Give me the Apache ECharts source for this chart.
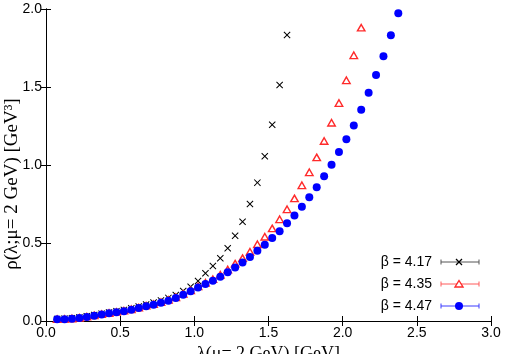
<!DOCTYPE html>
<html><head><meta charset="utf-8">
<script src="https://cdn.jsdelivr.net/npm/echarts@6/dist/echarts.min.js"></script>
<style>html,body{margin:0;padding:0;background:#fff}#c{width:506px;height:354px}</style>
</head><body><div id="c"></div>
<script>
// lambda values (GeV)
const lambdas = [0.075,0.125,0.175,0.225,0.275,0.325,0.375,0.425,0.475,0.525,0.575,0.625,0.675,0.725,0.775,0.825,0.875,0.925,0.975,1.025,1.075,1.125,1.175,1.225,1.275,1.325,1.375,1.425,1.475,1.525,1.575,1.625,1.675,1.725,1.775,1.825,1.875,1.925,1.975,2.025,2.075,2.125,2.175,2.225,2.275,2.325,2.375];
// beta = 4.17
const rho417 = [0.013,0.015,0.018,0.023,0.030,0.038,0.047,0.055,0.063,0.071,0.081,0.093,0.106,0.118,0.132,0.148,0.167,0.192,0.220,0.256,0.306,0.353,0.402,0.466,0.546,0.636,0.750,0.887,1.056,1.258,1.513,1.833];
// beta = 4.35
const rho435 = [0.012,0.013,0.016,0.021,0.028,0.036,0.044,0.051,0.058,0.066,0.075,0.086,0.098,0.108,0.121,0.135,0.152,0.174,0.196,0.222,0.245,0.268,0.296,0.330,0.368,0.403,0.444,0.492,0.540,0.594,0.652,0.716,0.786,0.870,0.953,1.049,1.154,1.271,1.397,1.543,1.703,1.880];
// beta = 4.47
const rho447 = [0.011,0.012,0.014,0.019,0.026,0.034,0.042,0.049,0.056,0.063,0.072,0.083,0.095,0.104,0.117,0.130,0.147,0.169,0.190,0.215,0.237,0.258,0.284,0.312,0.343,0.375,0.411,0.450,0.489,0.532,0.575,0.626,0.677,0.733,0.793,0.857,0.928,1.002,1.083,1.165,1.254,1.354,1.463,1.577,1.697,1.831,1.972];
const legendLabels = ['β = 4.17','β = 4.35','β = 4.47'];
const xName = 'λ(μ= 2 GeV) [GeV]';
const yName = 'ρ(λ;μ= 2 GeV) [GeV³]';
const xTicks = {min:0, max:3, interval:0.5};
const yTicks = {min:0, max:2, interval:0.5};

function pairs(ys){ return ys.map((y,i)=>[lambdas[i], y]); }

const crossPath = 'path://M1,0 L5,4 L9,0 L10,1 L6,5 L10,9 L9,10 L5,6 L1,10 L0,9 L4,5 L0,1 Z';
const chart = echarts.init(document.getElementById('c'), null, {renderer:'canvas'});
const sans = 'Liberation Sans, Arial, sans-serif';
const serif = 'Liberation Serif, Times New Roman, serif';
const lab = {color:'#000', fontFamily:sans, fontSize:14};
const axLine = {show:true, lineStyle:{color:'#000', width:1}};
const tick = {show:true, inside:true, length:5, lineStyle:{color:'#000'}};

function legendRow(i, y, lineColor, marker){
  return [
    {type:'text', style:{text:legendLabels[i], x:432, y:y, align:'right', verticalAlign:'middle', font:'14px '+sans, fill:'#000'}},
    {type:'line', shape:{x1:441,y1:y,x2:479,y2:y}, style:{stroke:lineColor, lineWidth:1}},
    {type:'line', shape:{x1:441,y1:y-2.5,x2:441,y2:y+2.5}, style:{stroke:lineColor, lineWidth:1}},
    {type:'line', shape:{x1:479,y1:y-2.5,x2:479,y2:y+2.5}, style:{stroke:lineColor, lineWidth:1}},
    marker
  ];
}
const graphics = [].concat(
  legendRow(0, 262, '#555', {type:'group', children:[
    {type:'line', shape:{x1:456,y1:259,x2:462,y2:265}, style:{stroke:'#000', lineWidth:1.2}},
    {type:'line', shape:{x1:462,y1:259,x2:456,y2:265}, style:{stroke:'#000', lineWidth:1.2}}]}),
  legendRow(1, 284, '#ff5a5a', {type:'polygon', shape:{points:[[459,280.5],[463,287],[455,287]]}, style:{fill:'#fff', stroke:'#ff2a2a', lineWidth:1.4}}),
  legendRow(2, 306, '#3a3aff', {type:'circle', shape:{cx:459, cy:306, r:4}, style:{fill:'#0000ff'}}),
  [{type:'text', x:12, y:184, rotation:Math.PI/2,
    style:{text:yName, x:0, y:0, align:'center', verticalAlign:'middle', font:'19px '+serif, fill:'#000'}}]
);

chart.setOption({
  animation:false,
  backgroundColor:'#fff',
  grid:{left:46, right:15, top:9, bottom:33, show:false, containLabel:false, outerBoundsMode:'none'},
  xAxis:[
    {type:'value', position:'bottom', min:xTicks.min, max:xTicks.max, interval:xTicks.interval,
     axisLine:axLine, axisTick:tick, splitLine:{show:false},
     axisLabel:Object.assign({margin:5, formatter:v=>v.toFixed(1)}, lab),
     name:xName, nameLocation:'middle', nameGap:20,
     nameTextStyle:{fontFamily:serif, fontSize:18, color:'#000', verticalAlign:'top'}},
    {type:'value', position:'top', min:xTicks.min, max:xTicks.max, interval:xTicks.interval,
     axisLine:axLine, axisTick:tick, splitLine:{show:false}, axisLabel:{show:false}}
  ],
  yAxis:[
    {type:'value', position:'left', min:yTicks.min, max:yTicks.max, interval:yTicks.interval,
     axisLine:axLine, axisTick:tick, splitLine:{show:false},
     axisLabel:Object.assign({margin:4, formatter:v=>v.toFixed(1)}, lab)},
    {type:'value', position:'right', min:yTicks.min, max:yTicks.max, interval:yTicks.interval,
     axisLine:axLine, axisTick:tick, splitLine:{show:false}, axisLabel:{show:false}}
  ],
  series:[
    {name:legendLabels[0], type:'scatter', data:pairs(rho417), symbol:crossPath, symbolSize:7,
     itemStyle:{color:'#000', opacity:1}, z:2},
    {name:legendLabels[1], type:'scatter', data:pairs(rho435), symbol:'triangle', symbolSize:[7.5,6.5],
     itemStyle:{color:'rgba(255,255,255,0.6)', borderColor:'#ff2a2a', borderWidth:1.4, opacity:1}, z:3},
    {name:legendLabels[2], type:'scatter', data:pairs(rho447), symbol:'circle', symbolSize:8,
     itemStyle:{color:'#0000ff', opacity:1}, z:4}
  ],
  graphic:graphics
});
</script></body></html>
